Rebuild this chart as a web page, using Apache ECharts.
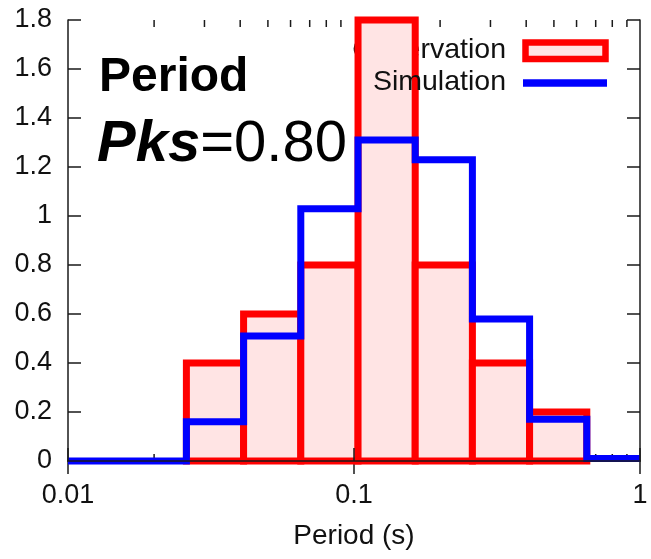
<!DOCTYPE html>
<html>
<head>
<meta charset="utf-8">
<script src="https://cdn.jsdelivr.net/npm/echarts@6/dist/echarts.min.js"></script>
<style>
  html, body { margin: 0; padding: 0; background: #fff; }
  #chart { width: 651px; height: 559px; }
</style>
</head>
<body>
<div id="chart"></div>
<script>
// Histogram bin edges (seconds) for the observed periods
const obsEdges = [0.02594, 0.04111, 0.06516, 0.1033, 0.1637, 0.2594, 0.4111, 0.6516];
// Observed density per bin
const observation = [0.4, 0.6, 0.8, 1.8, 0.8, 0.4, 0.2];
// Left edges of the simulated bins, covering the full axis range
const simEdges = [0.01, 0.02594, 0.04111, 0.06516, 0.1033, 0.1637, 0.2594, 0.4111, 0.6516];
// Simulated density per bin
const simulation = [0, 0.16, 0.51, 1.03, 1.31, 1.23, 0.58, 0.17, 0.01];
// Log-axis minor tick positions
const minorTicks = [0.02, 0.03, 0.04, 0.05, 0.06, 0.07, 0.08, 0.09,
                    0.2, 0.3, 0.4, 0.5, 0.6, 0.7, 0.8, 0.9];

const FONT = '"Liberation Sans", Arial, Helvetica, sans-serif';
const TEXT = '#111';
const FRAME = '#1a1a1a';
const RED = '#ff0000';
const PINK = '#ffe4e4';
const BLUE = '#0000ff';
const X_MIN = 0.01, X_MAX = 1, Y_MIN = 0, Y_MAX = 1.8;

const obsBins = observation.map((v, i) => [obsEdges[i], obsEdges[i + 1], v]);
const simSteps = simulation.map((v, i) => [simEdges[i], v]);
simSteps.push([X_MAX, simulation[simulation.length - 1]]);

const chart = echarts.init(document.getElementById('chart'), null, { renderer: 'canvas' });

const xAxisBase = {
  type: 'log', logBase: 10, min: X_MIN, max: X_MAX,
  axisLine: { show: true, lineStyle: { color: FRAME, width: 1.5 } },
  axisTick: { show: true, inside: true, length: 13, lineStyle: { color: FRAME, width: 1.5 } },
  splitLine: { show: false }
};
const yAxisBase = {
  type: 'value', min: Y_MIN, max: Y_MAX, interval: 0.2,
  axisLine: { show: true, lineStyle: { color: FRAME, width: 1.5 } },
  axisTick: { show: true, inside: true, length: 13, lineStyle: { color: FRAME, width: 1.5 } },
  splitLine: { show: false }
};

chart.setOption({
  animation: false,
  backgroundColor: '#fff',
  grid: { left: 68, right: 11, top: 20, bottom: 98 },
  xAxis: [
    Object.assign({}, xAxisBase, {
      position: 'bottom', z: 4,
      axisLabel: { fontFamily: FONT, fontSize: 27, color: TEXT, margin: 21 },
      name: 'Period (s)', nameLocation: 'middle', nameGap: 61,
      nameTextStyle: { fontFamily: FONT, fontSize: 28, color: TEXT }
    }),
    Object.assign({}, xAxisBase, { position: 'top', z: 0, axisLabel: { show: false } })
  ],
  yAxis: [
    Object.assign({}, yAxisBase, {
      position: 'left',
      axisLabel: { fontFamily: FONT, fontSize: 27, color: TEXT, margin: 16 }
    }),
    Object.assign({}, yAxisBase, { position: 'right', axisLabel: { show: false } })
  ],
  graphic: [
    // "Observation" key text sits beneath the bars
    { type: 'text', z: 0, x: 506, y: 50,
      style: { text: 'Observation', font: '28.5px ' + FONT, fill: TEXT, align: 'right', verticalAlign: 'middle' } },
    { type: 'rect', z: 100, shape: { x: 525.5, y: 42.5, width: 80, height: 16.5 },
      style: { fill: PINK, stroke: RED, lineWidth: 6.5 } },
    // "Simulation" key text is drawn over the bars
    { type: 'text', z: 100, x: 506, y: 82,
      style: { text: 'Simulation', font: '28.5px ' + FONT, fill: TEXT, align: 'right', verticalAlign: 'middle' } },
    { type: 'line', z: 100, shape: { x1: 523, y1: 83, x2: 607, y2: 83 },
      style: { stroke: BLUE, lineWidth: 7.5 } },
    { type: 'text', z: 100, x: 99, y: 78,
      style: { text: 'Period', font: 'bold 48px ' + FONT, fill: '#000', verticalAlign: 'middle' } },
    { type: 'text', z: 100, x: 97, y: 145,
      style: {
        text: '{a|Pks}{b|=0.80}', verticalAlign: 'middle',
        rich: {
          a: { font: 'italic bold 58px ' + FONT, fill: '#000' },
          b: { font: '58px ' + FONT, fill: '#000' }
        }
      } }
  ],
  series: [
    {
      type: 'custom', name: 'minor ticks', z: 1, silent: true, clip: false,
      data: minorTicks.map(v => [v, 0]),
      encode: { x: 0, y: 1 },
      renderItem: function (params, api) {
        const b = api.coord([api.value(0), Y_MIN]);
        const t = api.coord([api.value(0), Y_MAX]);
        const st = { stroke: FRAME, lineWidth: 1.5 };
        return { type: 'group', children: [
          { type: 'line', shape: { x1: b[0], y1: b[1], x2: b[0], y2: b[1] - 7 }, style: st },
          { type: 'line', shape: { x1: t[0], y1: t[1], x2: t[0], y2: t[1] + 7 }, style: st }
        ] };
      }
    },
    {
      type: 'custom', name: 'Observation', z: 2, silent: true, clip: false,
      data: obsBins,
      encode: { x: [0, 1], y: 2 },
      renderItem: function (params, api) {
        const p0 = api.coord([api.value(0), api.value(2)]);
        const p1 = api.coord([api.value(1), 0]);
        return { type: 'rect',
          shape: { x: p0[0], y: p0[1], width: p1[0] - p0[0], height: p1[1] - p0[1] },
          style: { fill: PINK, stroke: RED, lineWidth: 7 } };
      }
    },
    {
      type: 'line', name: 'Simulation', z: 3, silent: true, clip: false,
      step: 'end', symbol: 'none',
      data: simSteps,
      lineStyle: { color: BLUE, width: 7, join: 'miter' }
    }
  ]
});
</script>
</body>
</html>
